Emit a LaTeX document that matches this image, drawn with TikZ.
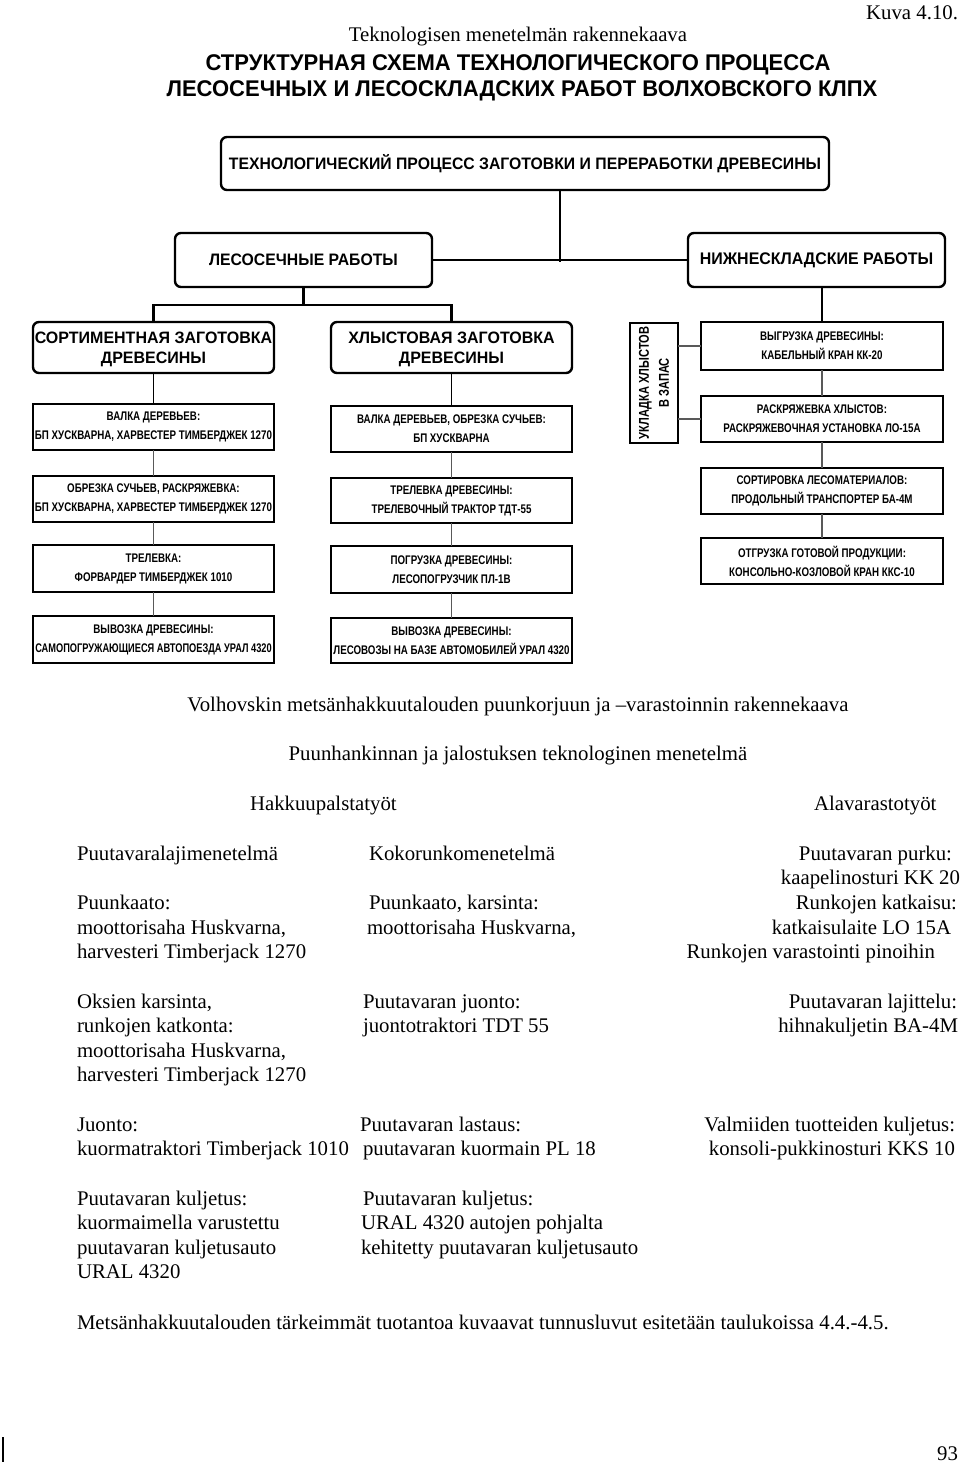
\documentclass[tikz,border=0pt]{standalone}
\usepackage{fontspec}
\setmainfont{Liberation Serif}
\newfontfamily\rutitle[FakeStretch=0.97]{Liberation Sans}
\newfontfamily\rumid[FakeStretch=0.95]{Liberation Sans}
\newfontfamily\rubox[FakeStretch=0.78]{Liberation Sans}
\newfontfamily\ruboxn[FakeStretch=0.74]{Liberation Sans}
\begin{document}
\begin{tikzpicture}[x=1pt,y=-1pt,
  every node/.style={inner sep=0pt, outer sep=0pt},
  txt/.style={font=\fontsize{20.8}{24.5}\selectfont},
  rbox/.style={draw, line width=2.4pt, rounded corners=6pt, align=center},
  sbox/.style={draw, line width=2.2pt, align=center, minimum width=241pt,
    font=\rubox\bfseries\fontsize{12.5}{19}\selectfont},
  thickc/.style={line width=2.4pt},
  thinc/.style={line width=1.3pt, black!65}]
\useasboundingbox (0,0) rectangle (960,1466);

% header texts
\node[txt, anchor=base east] (kuva) at (958,20) {Kuva 4.10.};
\node[txt, anchor=base] (tek) at (518,42) {Teknologisen menetelmän rakennekaava};
\node[anchor=base, font=\rutitle\bfseries\fontsize{22.7}{26}\selectfont] (t1) at (518,71) {СТРУКТУРНАЯ СХЕМА ТЕХНОЛОГИЧЕСКОГО ПРОЦЕССА};
\node[anchor=base, font=\rutitle\bfseries\fontsize{22.7}{26}\selectfont] (t2) at (522,97) {ЛЕСОСЕЧНЫХ И ЛЕСОСКЛАДСКИХ РАБОТ ВОЛХОВСКОГО КЛПХ};

% top-level boxes
\node[rbox, minimum width=608pt, minimum height=53pt, font=\rumid\bfseries\fontsize{16.6}{20}\selectfont] (top) at (525,163.5) {ТЕХНОЛОГИЧЕСКИЙ ПРОЦЕСС ЗАГОТОВКИ И ПЕРЕРАБОТКИ ДРЕВЕСИНЫ};
\node[rbox, minimum width=257pt, minimum height=54pt, font=\rumid\bfseries\fontsize{16.6}{20}\selectfont] (les) at (303.5,260) {ЛЕСОСЕЧНЫЕ РАБОТЫ};
\node[rbox, minimum width=257pt, minimum height=54pt, font=\rumid\bfseries\fontsize{16.8}{20}\selectfont] (niz) at (816.5,260) {НИЖНЕСКЛАДСКИЕ РАБОТЫ};
\node[rbox, minimum width=241pt, minimum height=51pt, text depth=0pt, font=\rutitle\bfseries\fontsize{16.5}{20}\selectfont] (sort) at (153.5,347.5) {СОРТИМЕНТНАЯ ЗАГОТОВКА\\ДРЕВЕСИНЫ};
\node[rbox, minimum width=241pt, minimum height=51pt, text depth=0pt, font=\rutitle\bfseries\fontsize{16.5}{20}\selectfont] (hlyst) at (451.5,347.5) {ХЛЫСТОВАЯ ЗАГОТОВКА\\ДРЕВЕСИНЫ};

% left column
\node[sbox, minimum height=46pt] (L1) at (153.5,427) {ВАЛКА ДЕРЕВЬЕВ:\\БП ХУСКВАРНА, ХАРВЕСТЕР ТИМБЕРДЖЕК 1270};
\node[sbox, minimum height=46pt] (L2) at (153.5,499) {ОБРЕЗКА СУЧЬЕВ, РАСКРЯЖЕВКА:\\БП ХУСКВАРНА, ХАРВЕСТЕР ТИМБЕРДЖЕК 1270};
\node[sbox, minimum height=47pt] (L3) at (153.5,568.5) {ТРЕЛЕВКА:\\ФОРВАРДЕР ТИМБЕРДЖЕК 1010};
\node[sbox, minimum height=47pt] (L4) at (153.5,639.5) {ВЫВОЗКА ДРЕВЕСИНЫ:\\{\ruboxn САМОПОГРУЖАЮЩИЕСЯ АВТОПОЕЗДА УРАЛ 4320}};

% middle column
\node[sbox, minimum height=46pt] (M1) at (451.5,429) {ВАЛКА ДЕРЕВЬЕВ, ОБРЕЗКА СУЧЬЕВ:\\БП ХУСКВАРНА};
\node[sbox, minimum height=45pt] (M2) at (451.5,500.5) {ТРЕЛЕВКА ДРЕВЕСИНЫ:\\ТРЕЛЕВОЧНЫЙ ТРАКТОР ТДТ-55};
\node[sbox, minimum height=47pt] (M3) at (451.5,569.5) {ПОГРУЗКА ДРЕВЕСИНЫ:\\ЛЕСОПОГРУЗЧИК ПЛ-1В};
\node[sbox, minimum height=45pt] (M4) at (451.5,640.5) {ВЫВОЗКА ДРЕВЕСИНЫ:\\ЛЕСОВОЗЫ НА БАЗЕ АВТОМОБИЛЕЙ УРАЛ 4320};

% right column
\node[sbox, minimum height=48pt, minimum width=242pt] (R1) at (822,346) {ВЫГРУЗКА ДРЕВЕСИНЫ:\\КАБЕЛЬНЫЙ КРАН КК-20};
\node[sbox, minimum height=46pt, minimum width=242pt] (R2) at (822,419) {РАСКРЯЖЕВКА ХЛЫСТОВ:\\РАСКРЯЖЕВОЧНАЯ УСТАНОВКА ЛО-15А};
\node[sbox, minimum height=46pt, minimum width=242pt] (R3) at (822,491) {СОРТИРОВКА ЛЕСОМАТЕРИАЛОВ:\\ПРОДОЛЬНЫЙ ТРАНСПОРТЕР БА-4М};
\node[sbox, minimum height=46pt, minimum width=242pt] (R4) at (822,561) {ОТГРУЗКА ГОТОВОЙ ПРОДУКЦИИ:\\КОНСОЛЬНО-КОЗЛОВОЙ КРАН ККС-10};
\node[draw, line width=2.2pt, minimum width=48pt, minimum height=120pt] (U) at (654,383) {};
\node[rotate=90, align=center, font=\rubox\bfseries\fontsize{14.2}{20}\selectfont] (Ut) at (U.center) {УКЛАДКА ХЛЫСТОВ\\В ЗАПАС};

% connectors
\coordinate (j1) at (560,262);
\coordinate (bl) at (153.5,305);
\coordinate (br) at (451.5,305);
\draw[thickc] (top.south -| j1) -- (j1);
\draw[thickc] (les.east) -- (niz.west);
\draw[thickc] (les.south) -- (les.south |- bl);
\draw[thickc] (sort.north) |- (br) -- (hlyst.north);
\draw[thickc] (R1.north) -- (R1.north |- niz.south);
\draw[line width=1.8pt] (sort.south) -- (L1.north);
\draw[line width=1.8pt] (hlyst.south) -- (M1.north);
\draw[thinc] (L1) -- (L2); \draw[thinc] (L2) -- (L3); \draw[thinc] (L3) -- (L4);
\draw[thinc] (M1) -- (M2); \draw[thinc] (M2) -- (M3); \draw[thinc] (M3) -- (M4);
\draw[thinc] (R1) -- (R2); \draw[thinc] (R2) -- (R3); \draw[thinc] (R3) -- (R4);
\draw[thinc] (R1.west) -- (R1.west -| U.east);
\draw[thinc] (R2.west) -- (R2.west -| U.east);

% Finnish text
\begin{scope}[every node/.append style={txt}]
\node[anchor=base] (f1) at (518,711) {Volhovskin metsänhakkuutalouden puunkorjuun ja –varastoinnin rakennekaava};
\node[anchor=base] (f2) at (518,760) {Puunhankinnan ja jalostuksen teknologinen menetelmä};
\node[anchor=base west] (f3) at (250,810) {Hakkuupalstatyöt};
\node[anchor=base west] (f4) at (814,810) {Alavarastotyöt};

\node[anchor=base west] (a1) at (77,860) {Puutavaralajimenetelmä};
\node[anchor=base west] (a2) at (77,909) {Puunkaato:};
\node[anchor=base west] (a3) at (77,934) {moottorisaha Huskvarna,};
\node[anchor=base west] (a4) at (77,958) {harvesteri Timberjack 1270};
\node[anchor=base west] (a5) at (77,1008) {Oksien karsinta,};
\node[anchor=base west] (a6) at (77,1032) {runkojen katkonta:};
\node[anchor=base west] (a7) at (77,1057) {moottorisaha Huskvarna,};
\node[anchor=base west] (a8) at (77,1081) {harvesteri Timberjack 1270};
\node[anchor=base west] (a9) at (77,1131) {Juonto:};
\node[anchor=base west] (a10) at (77,1155) {kuormatraktori Timberjack 1010};
\node[anchor=base west] (a11) at (77,1205) {Puutavaran kuljetus:};
\node[anchor=base west] (a12) at (77,1229) {kuormaimella varustettu};
\node[anchor=base west] (a13) at (77,1254) {puutavaran kuljetusauto};
\node[anchor=base west] (a14) at (77,1278) {URAL 4320};

\node[anchor=base west] (b1) at (369,860) {Kokorunkomenetelmä};
\node[anchor=base west] (b2) at (369,909) {Puunkaato, karsinta:};
\node[anchor=base west] (b3) at (367,934) {moottorisaha Huskvarna,};
\node[anchor=base west] (b4) at (363,1008) {Puutavaran juonto:};
\node[anchor=base west] (b5) at (363,1032) {juontotraktori TDT 55};
\node[anchor=base west] (b6) at (360,1131) {Puutavaran lastaus:};
\node[anchor=base west] (b7) at (363,1155) {puutavaran kuormain PL 18};
\node[anchor=base west] (b8) at (363,1205) {Puutavaran kuljetus:};
\node[anchor=base west] (b9) at (361,1229) {URAL 4320 autojen pohjalta};
\node[anchor=base west] (b10) at (361,1254) {kehitetty puutavaran kuljetusauto};

\node[anchor=base east] (c1) at (952,860) {Puutavaran purku:};
\node[anchor=base east] (c2) at (960,884) {kaapelinosturi KK 20};
\node[anchor=base east] (c3) at (957,909) {Runkojen katkaisu:};
\node[anchor=base east] (c4) at (951,934) {katkaisulaite LO 15A};
\node[anchor=base east] (c5) at (935,958) {Runkojen varastointi pinoihin};
\node[anchor=base east] (c6) at (957,1008) {Puutavaran lajittelu:};
\node[anchor=base east] (c7) at (958,1032) {hihnakuljetin BA-4M};
\node[anchor=base east] (c8) at (955,1131) {Valmiiden tuotteiden kuljetus:};
\node[anchor=base east] (c9) at (955,1155) {konsoli-pukkinosturi KKS 10};

\node[anchor=base west] (d1) at (77,1329) {Metsänhakkuutalouden tärkeimmät tuotantoa kuvaavat tunnusluvut esitetään taulukoissa 4.4.-4.5.};
\node[anchor=base east] (pg) at (958,1460) {93};
\end{scope}
\draw[line width=1.2pt] (3,1437) -- (3,1462);
\end{tikzpicture}
\end{document}
